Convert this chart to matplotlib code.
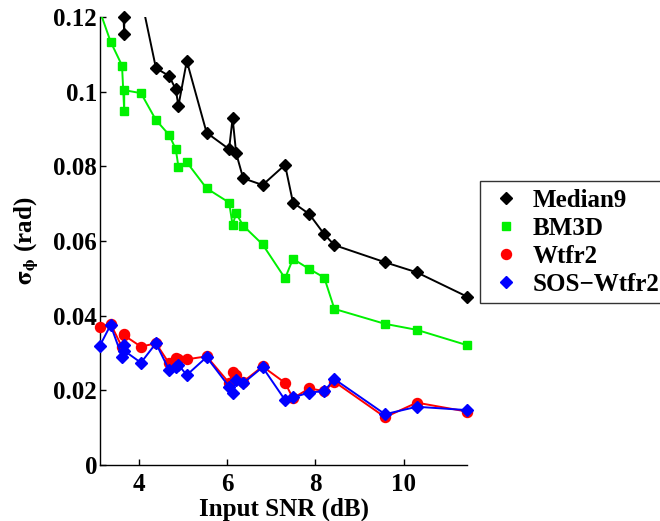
import numpy as np
import matplotlib
matplotlib.use('Agg')
import matplotlib.pyplot as plt

# Input SNR values (dB), shared by all four methods
snr = [3.11, 3.35, 3.61, 3.66, 3.66, 4.04, 4.38, 4.68, 4.83, 4.89, 5.08, 5.53,
       6.04, 6.12, 6.20, 6.36, 6.80, 7.31, 7.49, 7.86, 8.20, 8.43, 9.58, 10.30, 11.44]

# phase error std (rad) for each method
median9 = [0.155, 0.140, 0.130, 0.1154, 0.1199, 0.1254, 0.1063, 0.1042, 0.1006, 0.0962,
           0.1082, 0.0890, 0.0846, 0.0929, 0.0835, 0.0768, 0.0750, 0.0804, 0.0703, 0.0672,
           0.0618, 0.0589, 0.0543, 0.0516, 0.0451]
bm3d = [0.1215, 0.1134, 0.1070, 0.0948, 0.1004, 0.0996, 0.0924, 0.0884, 0.0846, 0.0799,
        0.0811, 0.0741, 0.0703, 0.0643, 0.0674, 0.0641, 0.0591, 0.0500, 0.0552, 0.0525,
        0.0502, 0.0418, 0.0378, 0.0362, 0.0321]
wtfr2 = [0.0370, 0.0378, 0.0316, 0.0350, 0.0347, 0.0317, 0.0326, 0.0272, 0.0287, 0.0283,
         0.0283, 0.0291, 0.0220, 0.0249, 0.0241, 0.0223, 0.0264, 0.0220, 0.0179, 0.0205,
         0.0198, 0.0223, 0.0128, 0.0167, 0.0143]
sos_wtfr2 = [0.0320, 0.0375, 0.0290, 0.0322, 0.0306, 0.0274, 0.0326, 0.0254, 0.0263, 0.0268,
             0.0241, 0.0289, 0.0210, 0.0194, 0.0228, 0.0219, 0.0262, 0.0174, 0.0181, 0.0194,
             0.0198, 0.0230, 0.0136, 0.0156, 0.0147]

names = ['Median9', 'BM3D', 'Wtfr2', 'SOS\u2212Wtfr2']
yticks = [0, 0.02, 0.04, 0.06, 0.08, 0.1, 0.12]
ytick_labels = ['0', '0.02', '0.04', '0.06', '0.08', '0.1', '0.12']
xticks = [4, 6, 8, 10]

plt.rcParams['font.family'] = ['Liberation Serif', 'DejaVu Serif']
plt.rcParams['font.weight'] = 'bold'
plt.rcParams['mathtext.fontset'] = 'stix'

fig = plt.figure(figsize=(6.6, 5.21), dpi=100)
ax = fig.add_axes([0.1515, 0.1075, 0.7076 - 0.1515, 0.9674 - 0.1075])

x = np.array(snr)
series = [median9, bm3d, wtfr2, sos_wtfr2]
colors = ['black', '#00f000', 'red', 'blue']
markers = ['D', 's', 'o', 'D']
msizes = [6.2, 5.6, 7.2, 5.8]
ymax = 0.12

handles = []
for i, (vals, c, m, ms) in enumerate(zip(series, colors, markers, msizes)):
    y = np.array(vals)
    # line is clipped at the axes, markers inside the range are drawn whole
    ax.plot(x, y, '-', color=c, lw=1.4, zorder=2 + 2 * i)
    keep = y <= ymax + 1e-9
    h, = ax.plot(x[keep], y[keep], linestyle='none', marker=m, ms=ms, color=c,
                 mec=c, clip_on=False, zorder=3 + 2 * i, label=names[i])
    handles.append(h)

ax.set_xlim(x.min(), x.max())
ax.set_ylim(0, ymax)
ax.set_xticks(xticks)
ax.set_yticks(yticks)
ax.set_yticklabels(ytick_labels)
ax.tick_params(direction='in', length=4, labelsize=18, width=1)
ax.tick_params(axis='y', pad=2)
ax.tick_params(axis='x', pad=6)
for lab in ax.get_xticklabels() + ax.get_yticklabels():
    lab.set_fontweight('bold')
ax.spines['top'].set_visible(False)
ax.spines['right'].set_visible(False)
ax.spines['left'].set_linewidth(1)
ax.spines['bottom'].set_linewidth(1)

ax.set_xlabel('Input SNR (dB)', fontsize=18, fontweight='bold', labelpad=1)
ax.set_ylabel(r'$\mathrm{\sigma}_{\mathrm{\phi}}$ (rad)', fontsize=18,
              fontweight='bold', labelpad=9)

leg = fig.legend(handles=handles, loc='lower left', bbox_to_anchor=(0.727, 0.418),
                 bbox_transform=fig.transFigure, fontsize=18, frameon=True,
                 fancybox=False, edgecolor='black', handlelength=1.5,
                 handletextpad=0.3, borderpad=0.3, labelspacing=0.2,
                 borderaxespad=0)
leg.get_frame().set_linewidth(1)
for t in leg.get_texts():
    t.set_fontweight('bold')

fig.savefig('out.png', dpi=100)
